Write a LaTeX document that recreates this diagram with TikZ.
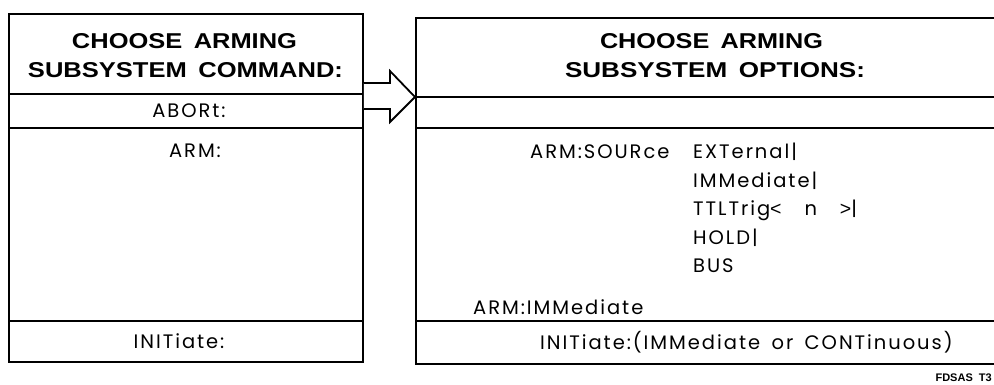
\documentclass[tikz,border=0pt]{standalone}
\usepackage{fontspec}
\setmainfont{Poppins}
\newfontfamily\hdrfont{Liberation Sans}
\newfontfamily\regfam{Poppins}[LetterSpace=10,WordSpace=1.6]
\newfontfamily\symfam{Liberation Sans}
\newcommand\regfont{\regfam\fontsize{19.5pt}{20pt}\selectfont}
\newcommand\hdrline[3]{\resizebox{#1}{#2}{\hdrfont\bfseries #3}}
\newcommand\lt{{\symfam<}}
\newcommand\gt{{\symfam>}}
\begin{document}
\begin{tikzpicture}[x=1pt,y=-1pt,
  frame/.style={draw,line width=1.8pt,inner sep=0pt,anchor=north west},
  rule/.style={line width=1.4pt},
  hdr/.style={inner sep=0pt,anchor=base},
  reg/.style={inner sep=0pt,font=\regfont,anchor=base},
  regw/.style={inner sep=0pt,font=\regfont,anchor=base west},
  blockarrow/.style={draw,fill=white,line width=1.8pt,line join=miter}]
\useasboundingbox (0,0) rectangle (994,384);
\fill[white] (0,0) rectangle (994,384);
% boxes
\node[frame,minimum width=354pt,minimum height=348pt] (L) at (8,13) {};
\node[frame,minimum width=600pt,minimum height=346pt] (R) at (415,17) {};
% rules in left box
\draw[rule] (L.west |- 0,94) -- (L.east |- 0,94);
\draw[rule] (L.west |- 0,128) -- (L.east |- 0,128);
\draw[rule] (L.west |- 0,321) -- (L.east |- 0,321);
% rules in right box
\draw[rule] (R.west |- 0,97) -- (R.east |- 0,97);
\draw[rule] (R.west |- 0,128) -- (R.east |- 0,128);
\draw[rule] (R.west |- 0,321) -- (R.east |- 0,321);
% block arrow
\coordinate (ta) at (L.east |- 0,83);
\coordinate (tb) at (L.east |- 0,109);
\coordinate (tip) at (R.west |- 0,97);
\draw[blockarrow] (ta) -- (390,83) -- (390,71) -- (tip) -- (390,122) -- (390,109) -- (tb);
% headers
\node[hdr] (lh1) at (184.5,48) {\hdrline{225pt}{15pt}{CHOOSE\hspace{0.45em}ARMING}};
\node[hdr] (lh2) at (185.5,77) {\hdrline{315pt}{15pt}{SUBSYSTEM\hspace{0.45em}COMMAND:}};
\node[hdr] (rh1) at (711.5,48) {\hdrline{223pt}{15pt}{CHOOSE\hspace{0.45em}ARMING}};
\node[hdr] (rh2) at (715,77) {\hdrline{300pt}{15pt}{SUBSYSTEM\hspace{0.45em}OPTIONS:}};
% left items
\node[reg] (abort) at (189,117) {ABORt:};
\node[reg] (arm) at (195,157) {ARM:};
\node[reg] (initl) at (179,348) {INITiate:};
% right items
\node[regw] (src) at (530,158) {ARM:SOURce};
\node[regw] (ext) at (693,158) {EXTernal|};
\node[regw] (imm) at (693,187) {IMMediate|};
\node[regw] (ttl) at (693,215) {TTLTrig\lt\ \ n\ \ \gt|};
\node[regw] (hold) at (693,244) {HOLD|};
\node[regw] (bus) at (693,272) {BUS};
\node[regw] (armimm) at (473,314) {ARM:IMMediate};
\node[regw] (initr) at (540,349) {INITiate:(IMMediate or CONTinuous)};
% figure tag
\node[inner sep=0pt,anchor=base east,font=\hdrfont\bfseries\fontsize{11pt}{12pt}\selectfont] (tag) at (992,381) {FDSAS\ \ T3};
\end{tikzpicture}
\end{document}
